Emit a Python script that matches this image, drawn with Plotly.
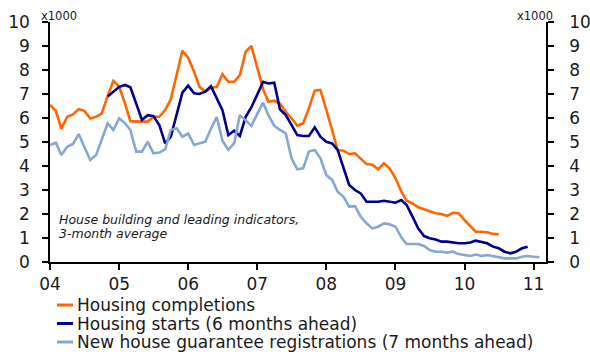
import pandas as pd
import plotly.graph_objects as go

# ---- data (thousands), monthly, Jan 2004 onwards ----
completions = [6.55, 6.3, 5.55, 6.05, 6.15, 6.37, 6.3, 5.98, 6.05, 6.19, 6.92, 7.55,
               7.3, 6.6, 5.87, 5.85, 5.85, 5.85, 6.05, 6.05, 6.33, 6.78, 7.79, 8.8,
               8.5, 7.93, 7.3, 7.1, 7.25, 7.3, 7.82, 7.51, 7.51, 7.79, 8.76, 9.0,
               8.1, 7.2, 6.68, 6.72, 6.6, 6.25, 5.99, 5.68, 5.78, 6.4, 7.14, 7.17,
               6.35, 5.5, 4.67, 4.64, 4.5, 4.53, 4.32, 4.08, 4.05, 3.86, 4.11, 3.9,
               3.49, 2.93, 2.55, 2.44, 2.28, 2.2, 2.14, 2.03, 2.0, 1.92, 2.05, 2.03,
               1.75, 1.5, 1.26, 1.26, 1.24, 1.17, 1.15]
completions_start = "2004-01-01"

starts = [6.9, 7.1,
          7.3, 7.375, 7.28, 6.6, 5.92, 6.12, 6.08, 5.71, 4.94, 5.22, 6.19, 7.06,
          7.35, 7.03, 7.0, 7.1, 7.33, 6.85, 6.33, 5.29, 5.47, 5.25, 6.05, 6.45,
          6.95, 7.51, 7.44, 7.47, 6.36, 6.12, 5.71, 5.29, 5.25, 5.25, 5.61, 5.22,
          5.01, 4.94, 4.67, 3.9, 3.21, 3.0, 2.86, 2.51, 2.5, 2.51, 2.55, 2.51,
          2.47, 2.58, 2.375, 1.89, 1.4, 1.08, 0.99, 0.94, 0.85, 0.85, 0.81, 0.78,
          0.78, 0.81, 0.89, 0.85, 0.78, 0.64, 0.57, 0.43, 0.36, 0.43, 0.57, 0.64]
starts_start = "2004-11-01"

registrations = [4.875, 4.97, 4.46, 4.8, 4.92, 5.33, 4.78, 4.25, 4.46, 5.15, 5.78, 5.5,
                 5.99, 5.78, 5.5, 4.6, 4.6, 5.01, 4.53, 4.56, 4.69, 5.5, 5.57, 5.22,
                 5.35, 4.875, 4.94, 5.01, 5.55, 6.04, 5.05, 4.67, 4.95, 6.12, 5.9, 5.67,
                 6.17, 6.64, 6.12, 5.67, 5.5, 5.36, 4.32, 3.86, 3.9, 4.6, 4.67, 4.32,
                 3.625, 3.42, 2.93, 2.72, 2.31, 2.33, 1.89, 1.61, 1.4, 1.47, 1.61, 1.57,
                 1.47, 1.03, 0.75, 0.75, 0.75, 0.67, 0.5, 0.43, 0.43, 0.39, 0.43, 0.33,
                 0.29, 0.25, 0.31, 0.25, 0.29, 0.25, 0.22, 0.15, 0.15, 0.15, 0.22, 0.25,
                 0.22, 0.2]
registrations_start = "2004-01-01"

series_names = ["Housing completions",
                "Housing starts (6 months ahead)",
                "New house guarantee registrations (7 months ahead)"]
series_colors = ["#FF6600", "#00008C", "#84A8CF"]

year_ticks = ["2004-01-01", "2005-01-01", "2006-01-01", "2007-01-01",
              "2008-01-01", "2009-01-01", "2010-01-01", "2011-01-01"]
year_labels = ["04", "05", "06", "07", "08", "09", "10", "11"]
y_ticks = [0, 1, 2, 3, 4, 5, 6, 7, 8, 9, 10]

FONT = "DejaVu Sans"
TXT = "#1a1a1a"
W, H = 590, 352
ML, MR, MT, MB = 50, 44, 22, 90
PW, PH = W - ML - MR, H - MT - MB


def months(start, n):
    return pd.date_range(start, periods=n, freq="MS")


def px_x(px):
    return (px - ML) / PW


def px_y(py):
    return (H - MB - py) / PH


fig = go.Figure()
data = [(completions, completions_start, "y"),
        (starts, starts_start, "y"),
        (registrations, registrations_start, "y2")]
for (vals, st, ax), name, col in zip(data, series_names, series_colors):
    fig.add_trace(go.Scatter(x=months(st, len(vals)), y=vals, mode="lines", name=name,
                             yaxis=ax, line=dict(color=col, width=2.6), showlegend=False))

axis_common = dict(showline=True, linecolor="black", linewidth=1.5, ticks="outside",
                   ticklen=6, tickwidth=1.5, tickcolor="black", showgrid=False,
                   zeroline=False, automargin=False,
                   tickfont=dict(family=FONT, size=17, color=TXT))

fig.update_layout(
    width=W, height=H,
    margin=dict(l=ML, r=MR, t=MT, b=MB, autoexpand=False),
    paper_bgcolor="white", plot_bgcolor="white",
    font=dict(family=FONT, color=TXT),
    showlegend=False,
    xaxis=dict(type="date", range=["2004-01-01", "2011-03-08"], tickvals=year_ticks,
               ticktext=year_labels, ticklabelstandoff=0, **axis_common),
    yaxis=dict(range=[0, 10], tickvals=y_ticks, ticklabelstandoff=9, **axis_common),
    yaxis2=dict(range=[0, 10], tickvals=y_ticks, overlaying="y", side="right",
                ticklabelstandoff=12, **axis_common),
)

# legend (drawn below the plot)
legend_rows_px = [305, 323.5, 342]
for name, col, py in zip(series_names, series_colors, legend_rows_px):
    fig.add_shape(type="line", xref="paper", yref="paper",
                  x0=px_x(57), x1=px_x(73), y0=px_y(py), y1=px_y(py),
                  line=dict(color=col, width=3))
    fig.add_annotation(text=name, xref="paper", yref="paper", x=px_x(75), y=px_y(py),
                       xanchor="left", yanchor="middle", showarrow=False,
                       font=dict(family=FONT, size=17, color=TXT))

fig.add_annotation(text="House building and leading indicators,", xref="paper", yref="paper",
                   x=px_x(57), y=px_y(219), xanchor="left", yanchor="middle", showarrow=False,
                   font=dict(family=FONT, size=12.5, color=TXT, style="italic"))
fig.add_annotation(text="3-month average", xref="paper", yref="paper",
                   x=px_x(57), y=px_y(233.5), xanchor="left", yanchor="middle", showarrow=False,
                   font=dict(family=FONT, size=12.5, color=TXT, style="italic"))
for xc in (58.5, 535):
    fig.add_annotation(text="x1000", xref="paper", yref="paper", x=px_x(xc), y=px_y(16),
                       xanchor="center", yanchor="middle", showarrow=False,
                       font=dict(family=FONT, size=11.5, color=TXT))

fig.write_html("out.html", config={"displayModeBar": False},
               post_script="document.body.style.margin='0';")
